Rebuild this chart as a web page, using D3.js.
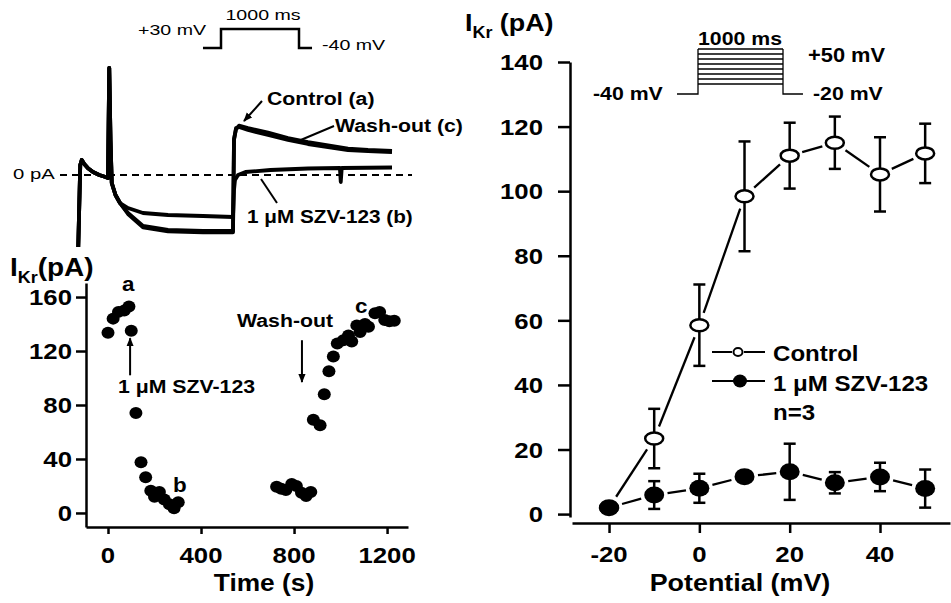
<!DOCTYPE html>
<html>
<head>
<meta charset="utf-8">
<script src="https://d3js.org/d3.v7.min.js"></script>
<style>
  body { margin: 0; background: #fff; }
  svg { display: block; }
</style>
</head>
<body>
<svg id="fig" width="951" height="603"></svg>
<script>
// ---- data ----
// top-left: voltage protocol (ms, mV)
const protoT = [-231, 0, 0, 1000, 1000, 1167];
const protoV = [-40, -40, 30, 30, -40, -40];

// top-left: example current traces (ms, pA)
const preT = [-238, -222, -210, -190, -160, -120, -70, -20, 0, 10, 20, 30, 60, 96];
const preI = [-216, 30, 45, 33, 20, 9, 0, -6, -9, 321, 105, -24, -60, -84];
const stepT = [160, 280, 480, 760, 1000];
const ctrlStep = [-114, -153, -165, -168, -168];
const washStep = [-117, -157, -169, -172, -172];
const drugStep = [-99, -114, -120, -123, -126];
const tailT = [1008, 1024, 1048, 1120, 1280, 1440, 1600, 1760, 1920, 2080, 2272];
const ctrlTail = [105, 141, 144, 135, 120, 105, 93, 84, 75, 72, 69];
const washTail = [108, 137, 148, 141, 127, 111, 99, 89, 79, 75, 72];
const drugTailT = [1008, 1016, 1040, 1100, 1300, 1600, 1855, 1862, 1870, 2272];
const drugTail = [-45, -15, 0, 9, 15, 19.5, 21, -21, 21, 22.5];

// bottom-left: time course (s, pA)
const tcTime = [0, 22, 45, 70, 90, 100, 120, 142, 162, 184, 200, 221, 242, 264, 284, 302,
  725, 745, 765, 790, 810, 832, 852, 872, 883, 912, 930, 950, 969, 986,
  1012, 1034, 1048, 1070, 1084, 1105, 1120, 1148, 1168, 1190, 1210, 1231];
const tcCurrent = [133.5, 144, 149, 150, 153, 135, 74, 37.5, 26.5, 16.5, 12, 15.5, 10, 6.5, 3.5, 8,
  19.5, 18, 17, 21.5, 20, 15, 12.5, 15.5, 69, 65, 88, 105, 116, 125.5,
  128, 131.5, 127, 139, 134, 140, 138, 148, 149, 143, 142, 142.5];
const tcTicksX = [0, 400, 800, 1200];
const tcTicksY = [0, 40, 80, 120, 160];

// right: I-V relation (mV, pA, SEM)
const potentials = [-20, -10, 0, 10, 20, 30, 40, 50];
const controlMean = [2, 23.4, 58.5, 98.4, 111, 115, 105.2, 111.7];
const controlSem = [0, 9.2, 12.6, 17, 10.2, 8.1, 11.5, 9.2];
const drugMean = [2, 5.9, 8.0, 11.6, 13.1, 9.7, 11.5, 7.9];
const drugSem = [0, 4.3, 4.5, 0, 8.7, 3.3, 4.4, 5.9];
const ivTicksX = [-20, 0, 20, 40];
const ivTicksY = [0, 20, 40, 60, 80, 100, 120, 140];
const stepLevels = [-20, -10, 0, 10, 20, 30, 40, 50];

const SX = 1.12;
const FONT = "'Liberation Sans', Arial, Helvetica, sans-serif";
const svg = d3.select("#fig");

svg.append("defs").append("marker").attr("id", "arr")
  .attr("viewBox", "0 0 10 10").attr("refX", 9).attr("refY", 5)
  .attr("markerWidth", 9).attr("markerHeight", 9).attr("markerUnits", "userSpaceOnUse")
  .attr("orient", "auto")
  .append("path").attr("d", "M0,1 L10,5 L0,9 Z").attr("fill", "#000");

function txt(x, y, s, size, o = {}) {
  return svg.append("text")
    .attr("transform", `translate(${x},${y}) scale(${o.sx || SX},1)`)
    .attr("font-family", FONT).attr("font-size", size)
    .attr("font-weight", o.weight || "bold")
    .attr("text-anchor", o.anchor || "start")
    .attr("fill", "#000")
    .text(s);
}
function ikr(x, y, size, sub, gap) {
  const t = txt(x, y, "", size);
  t.append("tspan").text("I");
  t.append("tspan").attr("font-size", sub).attr("dy", 7).text("Kr");
  t.append("tspan").attr("dy", -7).text(gap ? " (pA)" : "(pA)");
}
function seg(x1, y1, x2, y2, w, arrow) {
  const l = svg.append("line").attr("x1", x1).attr("y1", y1).attr("x2", x2).attr("y2", y2)
    .attr("stroke", "#000").attr("stroke-width", w);
  if (arrow) l.attr("marker-end", "url(#arr)");
  return l;
}
function styleAxis(g) {
  g.select(".domain").attr("stroke-width", 2.5);
  g.selectAll(".tick line").attr("stroke-width", 2.5);
  g.selectAll(".tick text").remove();
}

// ---- top-left: protocol + traces ----
const pX = d3.scaleLinear().domain([0, 1000]).range([221, 299]);
const pY = d3.scaleLinear().domain([-40, 30]).range([48, 29]);
svg.append("path")
  .attr("d", d3.line().x((d, i) => pX(protoT[i])).y(d => pY(d))(protoV))
  .attr("fill", "none").attr("stroke", "#000").attr("stroke-width", 2.5);
txt(138, 35, "+30 mV", 14, { weight: "normal", sx: 1.4 });
txt(263, 20, "1000 ms", 14, { weight: "normal", sx: 1.4, anchor: "middle" });
txt(322, 50, "-40 mV", 14, { weight: "normal", sx: 1.4 });

const trX = d3.scaleLinear().domain([0, 1000]).range([108, 233]);
const trY = d3.scaleLinear().domain([0, 100]).range([175, 141.67]);
svg.append("line").attr("x1", 60).attr("x2", 412).attr("y1", trY(0)).attr("y2", trY(0))
  .attr("stroke", "#000").attr("stroke-width", 2).attr("stroke-dasharray", "7,5");
txt(13, 179, "0 pA", 14, { weight: "normal", sx: 1.45 });

const traceLine = d3.line().x(d => trX(d[0])).y(d => trY(d[1])).curve(d3.curveLinear);
const zip = (t, v) => t.map((x, i) => [x, v[i]]);
const pre = zip(preT, preI);
const traces = [
  pre.concat(zip(stepT, ctrlStep), zip(tailT, ctrlTail)),
  pre.concat(zip(stepT, washStep), zip(tailT, washTail)),
  pre.concat(zip(stepT, drugStep), zip(drugTailT, drugTail))
];
svg.selectAll(".trace").data(traces).join("path").attr("class", "trace")
  .attr("d", traceLine).attr("fill", "none").attr("stroke", "#000")
  .attr("stroke-width", 3.8).attr("stroke-linejoin", "round");

txt(267, 105, "Control (a)", 19);
seg(262, 101, 244, 121, 2, true);
txt(335, 132, "Wash-out (c)", 19);
seg(334, 126, 296, 142, 2);
txt(247, 223, "1 \u03bcM SZV-123 (b)", 18.5);
seg(277, 203, 261, 179, 2);

// ---- bottom-left: time course ----
const tcX = d3.scaleLinear().domain([-94.6, 1290]).range([86, 408]);
const tcY = d3.scaleLinear().domain([-10.4, 170.4]).range([527, 283]);
svg.append("g").attr("transform", "translate(0,527)")
  .call(d3.axisBottom(tcX).tickValues(tcTicksX).tickSize(7).tickSizeOuter(0).tickFormat(""))
  .call(styleAxis);
svg.append("g").attr("transform", "translate(86,0)")
  .call(d3.axisLeft(tcY).tickValues(tcTicksY).tickSize(10).tickSizeOuter(0).tickFormat(""))
  .call(styleAxis);
tcTicksY.forEach(v => txt(72, tcY(v) + 8.3, String(v), 23, { anchor: "end" }));
tcTicksX.forEach(v => txt(tcX(v), 563, String(v), 23, { anchor: "middle" }));
txt(264, 591, "Time (s)", 23.5, { anchor: "middle" });
ikr(10, 276, 25, 16, false);

svg.selectAll(".tc").data(tcTime).join("ellipse").attr("class", "tc")
  .attr("cx", d => tcX(d)).attr("cy", (d, i) => tcY(tcCurrent[i]))
  .attr("rx", 6.5).attr("ry", 6).attr("fill", "#000");

txt(122, 291, "a", 20);
txt(173, 492, "b", 20);
txt(355, 313, "c", 20);
txt(118, 393, "1 \u03bcM SZV-123", 19);
seg(tcX(95), tcY(102), tcX(95), tcY(129.5), 2, true);
txt(237, 327, "Wash-out", 19);
seg(tcX(834), tcY(128), tcX(834), tcY(97), 2, true);

// ---- right: I-V ----
const ivX = d3.scaleLinear().domain([-28.2, 55.5]).range([572, 950]);
const ivY = d3.scaleLinear().domain([-0.9, 140]).range([517, 62]);
svg.append("g").attr("transform", "translate(0,523)")
  .call(d3.axisBottom(ivX).tickValues(ivTicksX).tickSize(10).tickSizeOuter(0).tickFormat(""))
  .call(styleAxis);
svg.append("g").attr("transform", "translate(570,0)")
  .call(d3.axisLeft(ivY).tickValues(ivTicksY).tickSize(12).tickSizeOuter(0).tickFormat(""))
  .call(styleAxis);
ivTicksY.forEach(v => txt(543, ivY(v) + 8.3, String(v), 23, { anchor: "end" }));
ivTicksX.forEach(v => txt(ivX(v), 562, String(v), 23, { anchor: "middle" }));
txt(740, 591, "Potential (mV)", 24, { anchor: "middle" });
ikr(465, 31, 24, 16, true);

// protocol inset
const rpX = d3.scaleLinear().domain([0, 1000]).range([698, 783]);
const rpY = d3.scaleLinear().domain([-40, 50]).range([94, 49]);
const proto = svg.append("g").attr("stroke", "#000").attr("stroke-width", 1.3).attr("fill", "none");
proto.append("path").attr("d", d3.line()([[rpX(-247), rpY(-40)], [rpX(0), rpY(-40)], [rpX(0), rpY(50)]]));
proto.append("path").attr("d", d3.line()([[rpX(1000), rpY(50)], [rpX(1000), rpY(-40)], [rpX(1235), rpY(-40)]]));
proto.selectAll(".lvl").data(stepLevels).join("line").attr("class", "lvl")
  .attr("x1", rpX(0)).attr("x2", rpX(1000)).attr("y1", d => rpY(d)).attr("y2", d => rpY(d));
txt(740, 45, "1000 ms", 19, { anchor: "middle" });
txt(808, 62, "+50 mV", 19.5);
txt(593, 100, "-40 mV", 19);
txt(813, 100, "-20 mV", 19);

function series(mean, sem, filled, gap) {
  const pts = potentials.map((p, i) => ({ x: ivX(p), y: ivY(mean[i]), hi: ivY(mean[i] + sem[i]), lo: ivY(mean[i] - sem[i]), s: sem[i] }));
  const g = svg.append("g").attr("stroke", "#000");
  // error bars
  pts.filter(d => d.s > 0).forEach(d => {
    g.append("line").attr("x1", d.x).attr("x2", d.x).attr("y1", d.hi).attr("y2", d.lo).attr("stroke-width", 2.5);
    g.append("line").attr("x1", d.x - 6).attr("x2", d.x + 6).attr("y1", d.hi).attr("y2", d.hi).attr("stroke-width", 2.5);
    g.append("line").attr("x1", d.x - 6).attr("x2", d.x + 6).attr("y1", d.lo).attr("y2", d.lo).attr("stroke-width", 2.5);
  });
  // connecting lines with small gaps at the markers
  for (let i = 0; i < pts.length - 1; i++) {
    const a = pts[i], b = pts[i + 1];
    const dx = b.x - a.x, dy = b.y - a.y, len = Math.hypot(dx, dy);
    if (len < gap * 2) continue;
    g.append("line").attr("stroke-width", 2.3)
      .attr("x1", a.x + dx / len * gap).attr("y1", a.y + dy / len * gap)
      .attr("x2", b.x - dx / len * gap).attr("y2", b.y - dy / len * gap);
  }
  g.selectAll("ellipse").data(pts).join("ellipse")
    .attr("cx", d => d.x).attr("cy", d => d.y)
    .attr("rx", filled ? 10 : 9).attr("ry", filled ? 8.5 : 6)
    .attr("fill", filled ? "#000" : "#fff").attr("stroke-width", filled ? 0 : 2.5);
}
series(controlMean, controlSem, false, 13);
series(drugMean, drugSem, true, 13.5);

// legend
seg(712, 352, 732, 352, 2);
seg(744, 352, 765, 352, 2);
svg.append("ellipse").attr("cx", 738).attr("cy", 352).attr("rx", 4.5).attr("ry", 4)
  .attr("fill", "#fff").attr("stroke", "#000").attr("stroke-width", 2);
txt(773, 361, "Control", 21.5);
seg(712, 381, 765, 381, 2);
svg.append("ellipse").attr("cx", 740).attr("cy", 381).attr("rx", 7).attr("ry", 6.5).attr("fill", "#000");
txt(773, 391, "1 \u03bcM SZV-123", 21.5);
txt(773, 420, "n=3", 21.5);
</script>
</body>
</html>
